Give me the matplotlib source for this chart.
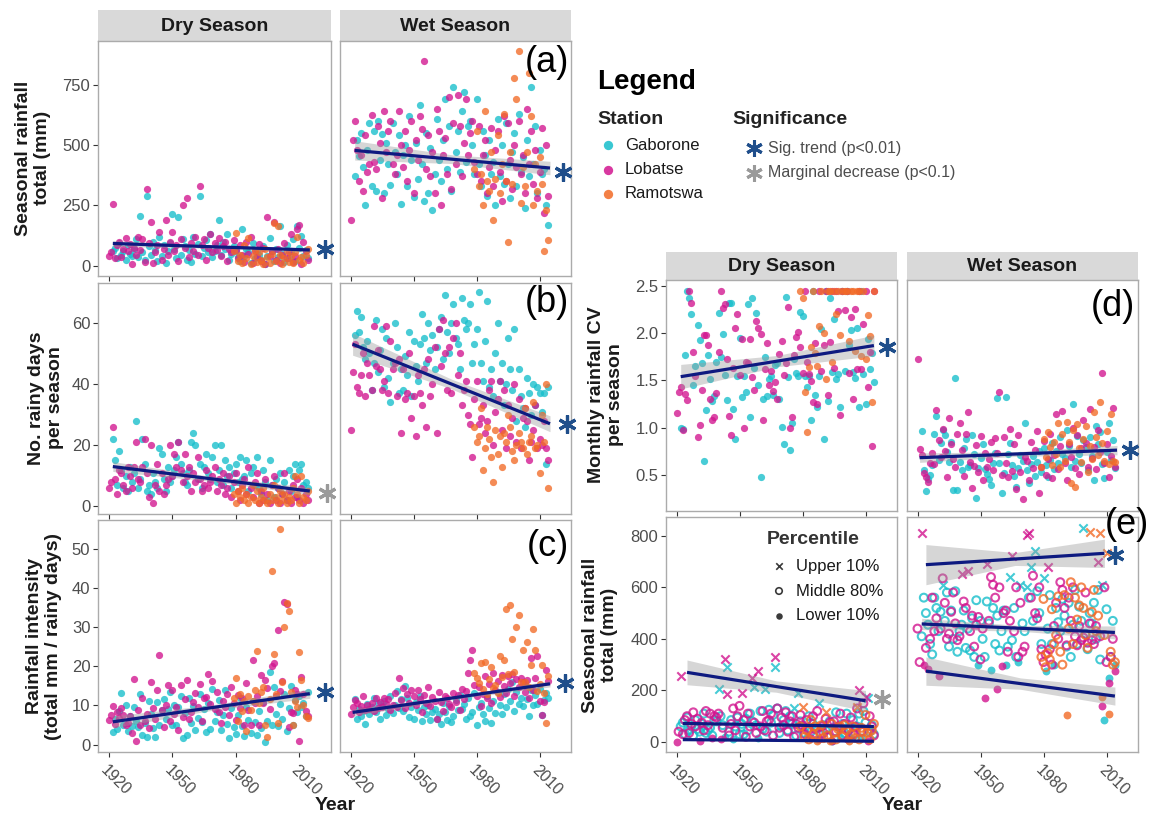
import numpy as np
import matplotlib
matplotlib.use("Agg")
import matplotlib.pyplot as plt

plt.rcParams["font.family"] = ["Liberation Sans", "DejaVu Sans"]

W, H = 1150, 816

stations = ["Gaborone", "Lobatse", "Ramotswa"]
station_colors = ["#16BECB", "#D2158F", "#F26A26"]
navy = "#0E1A80"
sig_colors = {"sig": "#1F4E8B", "marg": "#9A9A9A"}

gab_years = list(range(1922, 2015))
lob_years = list(range(1920, 2015))
ram_years = list(range(1979, 2015))
year_ticks = [1920, 1950, 1980, 2010]

# ---- (a) seasonal rainfall total (mm)
a_dry_gab = [60, 75, 30, 95, 45, 60, 25, 85, 50, 40,
             70, 110, 35, 205, 55, 25, 290, 80, 45, 100,
             65, 20, 120, 40, 85, 10, 60, 95, 215, 70,
             30, 200, 45, 110, 80, 25, 65, 15, 120, 50,
             90, 290, 40, 75, 105, 55, 130, 35, 60, 85,
             190, 45, 100, 70, 130, 25, 50, 80, 60, 35,
             20, 150, 40, 70, 55, 10, 95, 30, 65, 45,
             25, 80, 5, 40, 115, 60, 20, 70, 35, 165,
             50, 15, 85, 30, 60, 110, 20, 165, 75, 125,
             40, 65, 30]
a_dry_lob = [40, 55, 255, 30, 85, 100, 35, 70, 115, 60,
             90, 5, 75, 45, 120, 65, 110, 15, 320, 95,
             180, 10, 55, 85, 140, 25, 70, 190, 45, 100,
             140, 60, 85, 20, 110, 250, 75, 280, 35, 95,
             60, 120, 45, 330, 85, 110, 25, 75, 130, 55,
             95, 65, 115, 40, 80, 100, 20, 70, 55, 105,
             65, 30, 85, 45, 15, 100, 50, 120, 10, 60,
             35, 90, 20, 75, 5, 200, 40, 60, 180, 25,
             70, 10, 45, 95, 30, 55, 130, 15, 40, 150,
             170, 5, 100, 60, 25]
a_dry_ram = [60, 135, 20, 45, 10, 85, 30, 115, 5, 40,
             65, 15, 55, 25, 5, 70, 35, 10, 50, 175,
             20, 165, 45, 5, 30, 60, 15, 40, 10, 55,
             120, 25, 35, 10, 45, 70]

a_wet_gab = [370, 520, 455, 550, 410, 250, 480, 590, 330, 560,
             310, 600, 440, 545, 300, 510, 420, 335, 590, 470,
             380, 540, 255, 460, 500, 330, 620, 440, 285, 510,
             360, 665, 420, 270, 550, 300, 490, 230, 380, 610,
             440, 350, 520, 690, 400, 580, 310, 740, 470, 560,
             390, 640, 720, 430, 580, 600, 500, 380, 690, 420,
             330, 560, 460, 290, 520, 380, 430, 250, 610, 370,
             500, 340, 590, 420, 280, 470, 550, 330, 630, 390,
             450, 240, 520, 370, 740, 420, 580, 300, 480, 380,
             400, 250, 170]
a_wet_lob = [190, 520, 600, 480, 350, 460, 310, 540, 390, 420,
             625, 430, 400, 580, 510, 280, 640, 470, 560, 600,
             420, 380, 460, 640, 500, 410, 560, 350, 480, 600,
             300, 520, 440, 620, 565, 850, 400, 540, 370, 470,
             300, 650, 560, 250, 460, 530, 380, 700, 320, 590,
             420, 710, 580, 370, 510, 690, 460, 550, 600, 430,
             380, 580, 350, 460, 520, 300, 410, 570, 330, 480,
             560, 390, 270, 620, 350, 590, 440, 320, 500, 410,
             600, 380, 460, 300, 650, 420, 560, 340, 480, 280,
             390, 570, 220, 500, 290]
a_wet_ram = [400, 560, 330, 380, 250, 640, 350, 310, 470, 190,
             360, 540, 300, 420, 630, 350, 100, 470, 340, 780,
             690, 890, 260, 410, 330, 470, 800, 620, 250, 420,
             310, 450, 340, 60, 230, 105]

# ---- (b) number of rainy days per season
b_dry_gab = [22, 15, 7, 18, 12, 6, 10, 5, 13, 8,
             11, 28, 6, 9, 22, 14, 5, 7, 4, 11,
             8, 6, 19, 17, 9, 5, 13, 8, 10, 12,
             16, 21, 14, 11, 8, 7, 12, 21, 24, 20,
             9, 14, 6, 13, 17, 11, 9, 16, 20, 8,
             12, 20, 7, 15, 10, 13, 6, 11, 14, 8,
             16, 9, 10, 15, 5, 11, 13, 7, 16, 6,
             4, 12, 8, 2, 15, 7, 3, 9, 6, 11,
             4, 8, 2, 12, 5, 10, 14, 3, 12, 14,
             7, 8, 6]
b_dry_lob = [6, 8, 26, 9, 4, 12, 11, 7, 5, 13,
             10, 6, 13, 21, 9, 8, 13, 22, 11, 3,
             20, 1, 7, 14, 5, 11, 4, 7, 9, 20,
             10, 17, 13, 21, 12, 8, 17, 10, 13, 5,
             11, 8, 16, 9, 5, 7, 12, 6, 8, 10,
             13, 5, 9, 7, 11, 4, 6, 10, 3, 8,
             11, 5, 2, 7, 9, 4, 13, 6, 3, 8,
             11, 1, 5, 2, 9, 4, 1, 7, 10, 2,
             6, 1, 4, 11, 2, 5, 1, 7, 3, 9,
             2, 6, 1, 4, 2]
b_dry_ram = [4, 1, 5, 3, 6, 2, 4, 1, 3, 7,
             2, 5, 1, 3, 6, 2, 1, 4, 2, 7,
             3, 1, 5, 2, 4, 1, 3, 2, 6, 10,
             4, 1, 10, 3, 2, 5]

b_wet_gab = [56, 64, 57, 62, 52, 48, 54, 50, 38, 47,
             61, 44, 51, 58, 39, 55, 42, 34, 47, 60,
             52, 37, 45, 38, 49, 43, 57, 36, 54, 46,
             41, 53, 63, 55, 47, 60, 51, 56, 45, 52,
             58, 62, 48, 69, 57, 50, 60, 66, 55, 53,
             45, 68, 61, 58, 60, 66, 47, 53, 58, 70,
             47, 41, 54, 67, 39, 45, 36, 50, 60, 41,
             47, 33, 40, 55, 45, 38, 58, 28, 45, 36,
             32, 26, 42, 37, 30, 40, 33, 39, 37, 31,
             37, 14, 39]
b_wet_lob = [25, 44, 53, 39, 37, 43, 50, 36, 47, 43,
             38, 59, 46, 51, 45, 38, 41, 59, 37, 54,
             45, 47, 36, 48, 24, 45, 35, 37, 50, 29,
             36, 23, 43, 37, 33, 45, 26, 48, 36, 40,
             52, 24, 58, 46, 61, 50, 38, 52, 37, 55,
             60, 43, 50, 33, 38, 41, 30, 27, 16, 35,
             41, 27, 29, 33, 24, 28, 38, 41, 20, 31,
             35, 41, 25, 38, 19, 33, 23, 29, 40, 21,
             35, 19, 29, 32, 28, 15, 21, 25, 33, 19,
             22, 20, 28, 19, 15]
b_wet_ram = [26, 21, 23, 32, 12, 19, 26, 22, 16, 8,
             25, 17, 23, 13, 24, 21, 30, 26, 18, 15,
             20, 24, 21, 19, 32, 17, 21, 23, 34, 19,
             20, 11, 30, 21, 40, 6]

# ---- (c) rainfall intensity (total mm / rainy days)
c_dry_gab = [3.2, 6.5, 4.0, 8.5, 13.2, 5.0, 10.1, 3.5, 7.2, 4.8,
             9.5, 6.0, 4.5, 13.0, 2.5, 5.5, 1.8, 11.0, 7.8, 4.2,
             1.8, 10.8, 5.0, 8.8, 11.5, 6.5, 9.0, 13.5, 4.9, 10.2,
             5.1, 9.6, 12.5, 1.6, 8.0, 2.4, 11.8, 5.5, 9.8, 3.8,
             6.8, 12.9, 5.7, 9.1, 3.2, 10.5, 4.0, 14.2, 6.1, 8.3,
             11.3, 3.6, 7.6, 13.8, 5.2, 1.6, 9.3, 4.5, 2.8, 7.5,
             12.0, 4.8, 2.1, 9.7, 6.3, 3.0, 11.2, 5.8, 2.4, 8.6,
             4.3, 10.8, 0.6, 6.0, 18.6, 5.1, 14.6, 7.9, 4.8, 10.3,
             6.4, 12.8, 3.5, 9.2, 15.0, 5.0, 11.4, 8.2, 12.5, 9.6,
             10.5, 7.2, 13.5]
c_dry_lob = [6.2, 7.5, 9.8, 5.3, 8.2, 6.8, 9.2, 7.5, 5.0, 5.6,
             7.4, 2.9, 16.8, 1.0, 8.7, 5.0, 11.9, 6.1, 7.9, 4.3,
             16.0, 9.2, 6.6, 13.9, 22.9, 8.9, 4.5, 10.0, 15.1, 6.0,
             13.9, 7.9, 9.5, 3.7, 15.3, 7.0, 11.7, 16.4, 6.5, 8.4,
             10.8, 13.1, 9.7, 15.5, 6.1, 11.8, 12.1, 18.0, 10.3, 16.2,
             9.0, 13.3, 8.3, 5.4, 11.1, 9.6, 13.0, 7.6, 14.8, 10.7,
             6.2, 12.6, 9.3, 12.0, 5.0, 15.8, 8.8, 5.0, 21.5, 10.6,
             12.4, 5.0, 17.8, 10.6, 16.4, 14.4, 9.1, 20.0, 20.7, 12.4,
             29.2, 13.7, 16.2, 36.3, 35.8, 4.4, 8.2, 8.0, 14.0, 13.0,
             0.9, 17.3, 12.8, 8.6, 7.3]
c_dry_ram = [12.0, 17.0, 6.0, 13.0, 8.5, 11.0, 3.5, 12.5, 8.8, 11.0,
             14.0, 23.8, 10.5, 13.5, 14.8, 5.0, 2.0, 11.5, 44.2, 23.0,
             13.0, 5.5, 55.0, 16.0, 30.0, 36.0, 34.0, 13.5, 5.0, 11.0,
             9.5, 23.5, 16.5, 10.0, 7.3, 6.8]

c_wet_gab = [11.5, 6.5, 9.0, 7.2, 8.6, 5.3, 10.4, 7.8, 9.5, 11.8,
             8.2, 10.6, 6.4, 9.9, 11.2, 7.5, 9.1, 12.3, 8.0, 10.2,
             13.6, 9.3, 11.5, 8.6, 14.9, 12.0, 7.1, 9.7, 6.4, 10.8,
             8.9, 12.4, 5.9, 9.6, 7.9, 10.1, 6.3, 8.2, 9.0, 6.5,
             7.7, 5.2, 10.5, 8.3, 6.2, 9.8, 5.7, 7.4, 11.4, 8.9,
             12.6, 9.0, 10.3, 6.6, 11.9, 7.3, 8.4, 13.1, 5.1, 9.5,
             10.7, 7.9, 6.1, 12.5, 9.2, 5.5, 11.0, 8.0, 13.3, 10.1,
             7.8, 12.8, 9.6, 14.3, 11.1, 16.0, 8.6, 13.4, 10.4, 12.0,
             9.8, 15.1, 11.6, 7.2, 13.9, 10.0, 12.7, 10.3, 14.2, 7.6,
             11.3, 13.2, 12.0]
c_wet_lob = [7.8, 9.5, 11.4, 10.6, 8.3, 9.9, 12.5, 8.7, 10.2, 9.1,
             10.7, 8.5, 11.8, 9.4, 10.9, 9.7, 12.0, 10.3, 11.5, 8.8,
             10.1, 13.2, 9.6, 17.0, 11.3, 14.5, 9.3, 12.9, 10.6, 13.8,
             12.4, 10.0, 14.0, 11.7, 8.4, 12.6, 10.5, 14.7, 9.9, 12.2,
             11.1, 6.4, 13.5, 10.8, 8.6, 12.3, 11.9, 10.4, 9.5, 13.1,
             10.9, 12.7, 8.9, 14.1, 11.6, 13.6, 18.3, 21.5, 24.0, 15.2,
             12.3, 14.6, 9.8, 13.0, 17.4, 11.8, 15.4, 10.7, 18.2, 13.9,
             16.2, 12.1, 17.8, 14.9, 13.2, 17.6, 15.7, 17.9, 12.4, 16.8,
             14.6, 17.1, 15.9, 13.3, 16.4, 12.0, 22.0, 14.0, 17.0, 22.5,
             11.0, 7.5, 10.8, 19.0, 16.3]
c_wet_ram = [18.2, 17.0, 15.6, 20.8, 14.1, 21.0, 12.8, 16.6, 19.8, 14.5,
             15.2, 13.2, 22.6, 17.3, 21.5, 34.5, 18.0, 35.6, 27.0, 18.5,
             30.0, 33.1, 16.0, 24.2, 15.9, 26.1, 14.8, 20.2, 29.4, 24.2,
             13.6, 15.4, 20.2, 13.1, 5.5, 17.5]

# ---- (d) monthly rainfall CV per season
d_dry_gab = [1.00, 0.98, 1.77, 2.45, 2.38, 2.21, 1.45, 1.65, 2.09, 1.93,
             1.68, 0.64, 1.19, 1.77, 1.51, 1.28, 1.33, 1.70, 2.22, 1.75,
             1.99, 1.56, 1.29, 2.32, 2.32, 1.20, 0.88, 1.55, 1.95, 1.32,
             1.55, 1.38, 2.31, 1.11, 2.38, 1.63, 2.22, 1.45, 0.47, 1.30,
             1.75, 1.33, 1.51, 1.55, 1.34, 1.66, 1.69, 1.30, 1.01, 0.82,
             2.39, 1.54, 0.76, 1.05, 1.73, 1.58, 1.55, 2.23, 2.18, 1.55,
             1.43, 1.55, 1.08, 2.45, 1.35, 1.22, 1.55, 2.05, 0.88, 2.45,
             1.28, 2.38, 1.59, 2.15, 1.51, 1.57, 1.22, 2.45, 1.60, 2.45,
             1.88, 2.03, 1.59, 1.53, 2.06, 1.22, 2.45, 1.57, 1.25, 1.94,
             1.62, 1.79, 1.48]
d_dry_lob = [1.15, 1.38, 1.43, 0.97, 1.36, 1.29, 2.45, 2.32, 1.80, 1.55,
             0.90, 1.03, 1.40, 1.98, 1.98, 1.88, 1.30, 1.08, 1.11, 1.37,
             1.80, 2.45, 2.27, 2.31, 1.73, 1.12, 0.92, 1.63, 2.06, 2.21,
             1.56, 1.94, 0.99, 1.70, 1.68, 1.94, 1.54, 1.40, 2.13, 2.06,
             1.99, 1.08, 1.62, 1.90, 1.45, 1.60, 1.39, 1.48, 1.30, 1.78,
             1.92, 1.56, 1.69, 2.28, 1.00, 1.11, 1.77, 1.96, 2.01, 1.86,
             1.58, 2.45, 1.70, 1.57, 1.49, 1.27, 1.90, 1.25, 2.45, 1.60,
             1.88, 2.45, 1.34, 1.91, 2.45, 1.63, 2.45, 2.24, 1.13, 2.45,
             2.25, 2.45, 1.58, 2.17, 1.30, 2.26, 1.62, 2.45, 1.62, 2.10,
             2.45, 1.43, 1.80, 0.80, 2.45]
d_dry_ram = [2.45, 2.38, 1.38, 0.95, 1.64, 1.85, 2.45, 1.79, 1.65, 2.08,
             2.45, 2.00, 1.52, 2.45, 2.45, 1.70, 2.45, 2.21, 2.45, 1.98,
             2.45, 2.45, 2.45, 1.92, 2.45, 2.45, 1.81, 2.45, 2.45, 1.76,
             2.45, 1.73, 2.19, 1.97, 1.27, 2.45]

d_wet_gab = [0.96, 0.55, 0.33, 0.45, 0.50, 0.60, 0.93, 1.12, 0.66, 0.84,
             0.97, 0.92, 0.74, 0.63, 0.85, 0.34, 1.53, 0.34, 0.63, 0.55,
             0.78, 0.88, 0.58, 0.60, 0.92, 0.72, 0.25, 0.57, 0.68, 0.83,
             0.56, 0.51, 0.45, 0.39, 0.62, 0.73, 1.31, 0.62, 0.30, 0.52,
             1.32, 0.72, 0.84, 0.60, 0.49, 0.37, 0.57, 0.71, 0.65, 1.05,
             0.55, 0.41, 0.61, 0.70, 0.49, 0.63, 0.75, 0.53, 0.78, 0.60,
             0.47, 0.66, 0.84, 0.56, 0.75, 0.62, 0.90, 0.72, 0.68, 0.97,
             0.80, 0.58, 1.25, 0.65, 0.91, 0.72, 0.62, 0.87, 0.79, 0.55,
             0.90, 0.70, 0.44, 1.02, 0.83, 0.95, 0.61, 0.46, 0.74, 1.05,
             0.66, 0.87, 0.57]
d_wet_lob = [1.73, 0.77, 0.71, 0.52, 0.48, 0.42, 0.62, 0.73, 0.61, 1.19,
             0.87, 0.69, 0.98, 0.75, 0.48, 1.10, 0.82, 0.67, 0.58, 0.93,
             1.05, 0.76, 0.49, 0.93, 1.17, 0.63, 0.36, 0.59, 0.81, 0.53,
             0.91, 0.44, 0.73, 0.58, 0.67, 0.85, 0.55, 0.89, 0.73, 1.38,
             0.50, 0.90, 0.62, 0.47, 0.98, 0.54, 0.82, 0.35, 0.92, 0.53,
             0.24, 0.69, 0.65, 0.44, 0.85, 0.57, 0.76, 0.96, 0.31, 0.58,
             0.86, 0.50, 0.67, 0.93, 0.46, 0.71, 1.14, 0.56, 0.80, 1.18,
             0.62, 0.44, 0.82, 0.69, 1.00, 0.57, 0.92, 0.51, 0.78, 1.08,
             0.84, 0.58, 1.20, 0.68, 0.79, 0.56, 0.97, 0.74, 1.58, 0.62,
             0.83, 0.48, 0.70, 1.21, 0.58]
d_wet_ram = [0.58, 0.88, 0.69, 0.95, 0.79, 0.60, 0.85, 0.72, 1.05, 0.58,
             0.93, 0.64, 1.06, 0.85, 0.41, 0.97, 0.37, 1.04, 0.78, 0.63,
             0.88, 1.02, 0.53, 0.80, 0.67, 1.17, 0.90, 0.71, 1.27, 0.84,
             0.64, 0.96, 0.61, 1.14, 0.65, 0.63]

# ---- (e) seasonal rainfall total by percentile group (mm)
e_dry_gab = [60, 75, 30, 95, 45, 60, 25, 85, 50, 40,
             70, 110, 35, 45, 55, 25, 85, 80, 205, 100,
             65, 20, 290, 40, 85, 10, 60, 95, 30, 70,
             30, 90, 45, 110, 80, 215, 65, 15, 120, 50,
             205, 40, 125, 75, 105, 290, 130, 35, 60, 85,
             120, 45, 100, 70, 130, 25, 190, 80, 60, 35,
             20, 100, 40, 70, 55, 10, 150, 30, 65, 45,
             25, 80, 5, 40, 115, 60, 20, 70, 35, 110,
             50, 15, 85, 30, 60, 110, 20, 120, 75, 170,
             40, 65, 30]
e_dry_lob = [0, 40, 255, 30, 85, 100, 35, 70, 115, 60,
             90, 5, 75, 45, 120, 65, 110, 15, 100, 95,
             110, 10, 55, 320, 185, 25, 70, 130, 45, 100,
             140, 190, 85, 20, 110, 60, 250, 75, 35, 275,
             60, 120, 45, 80, 85, 110, 25, 330, 130, 55,
             95, 65, 115, 40, 80, 100, 20, 70, 55, 105,
             65, 30, 85, 45, 15, 100, 50, 120, 10, 60,
             35, 90, 20, 75, 5, 80, 40, 60, 110, 25,
             70, 10, 45, 95, 30, 60, 130, 200, 40, 150,
             175, 5, 100, 60, 25]
e_dry_ram = [60, 135, 20, 45, 10, 85, 30, 60, 5, 40,
             65, 15, 115, 25, 5, 70, 35, 10, 50, 60,
             20, 65, 45, 5, 30, 60, 15, 135, 10, 55,
             40, 105, 35, 10, 45, 70]

e_wet_gab = [410, 560, 500, 455, 380, 340, 560, 520, 430, 505,
             610, 470, 580, 370, 510, 400, 585, 350, 430, 455,
             510, 365, 440, 355, 480, 330, 550, 300, 470, 400,
             330, 545, 460, 280, 520, 380, 490, 355, 430, 510,
             300, 370, 640, 395, 520, 330, 310, 610, 460, 430,
             600, 560, 680, 470, 740, 585, 500, 380, 635, 275,
             440, 570, 380, 300, 520, 465, 430, 555, 490, 370,
             540, 330, 455, 590, 380, 525, 470, 830, 420, 360,
             500, 460, 540, 400, 590, 320, 610, 85, 515, 250,
             330, 470, 300]
e_wet_lob = [440, 310, 810, 300, 365, 285, 400, 560, 430, 480,
             255, 440, 635, 540, 400, 420, 505, 580, 460, 395,
             410, 650, 545, 520, 665, 430, 490, 370, 455, 485,
             320, 440, 170, 690, 470, 640, 610, 560, 205, 600,
             295, 500, 510, 350, 470, 720, 430, 600, 330, 540,
             350, 370, 805, 810, 560, 645, 500, 480, 600, 360,
             310, 340, 680, 360, 300, 450, 540, 400, 620, 590,
             520, 375, 560, 470, 600, 410, 375, 450, 395, 405,
             580, 385, 460, 395, 380, 450, 700, 410, 140, 600,
             310, 230, 330, 400, 275]
e_wet_ram = [330, 555, 290, 345, 320, 515, 380, 415, 565, 350,
             300, 570, 105, 440, 620, 380, 560, 475, 530, 600,
             520, 415, 365, 815, 505, 590, 430, 490, 810, 175,
             415, 735, 110, 350, 300, 310]

# ---- fitted trends: [start year, end year], [start, end] value, ribbon half-width at start/mid/end
fit_a_dry = ([1922, 2015], [92, 65], [12, 6, 9])
fit_a_wet = ([1922, 2015], [478, 405], [40, 18, 28])
fit_b_dry = ([1922, 2015], [13, 5], [1.6, 0.8, 1.2])
fit_b_wet = ([1921, 2015], [53, 27], [3.6, 1.6, 2.6])
fit_c_dry = ([1922, 2015], [5.8, 13.0], [1.5, 0.7, 1.2])
fit_c_wet = ([1921, 2015], [8.2, 15.5], [0.9, 0.4, 0.8])
fit_d_dry = ([1922, 2014], [1.54, 1.87], [0.13, 0.06, 0.11])
fit_d_wet = ([1921, 2015], [0.68, 0.76], [0.05, 0.025, 0.05])
fit_e_dry = [([1925, 2010], [270, 160], [48, 22, 40]),
             ([1923, 2014], [72, 60], [6, 3, 5]),
             ([1923, 2014], [9, 3], [3, 1.5, 3])]
fit_e_wet = [([1924, 2009], [688, 732], [78, 25, 55]),
             ([1922, 2014], [458, 425], [22, 11, 25]),
             ([1924, 2014], [275, 178], [55, 22, 35])]

# ---- significance stars: year position, value, kind
star_a_dry = (2022, 68, "sig")
star_a_wet = (2021, 390, "sig")
star_b_dry = (2023, 4.3, "marg")
star_b_wet = (2023, 27, "sig")
star_c_dry = (2022, 13.5, "sig")
star_c_wet = (2022, 15.7, "sig")
star_d_dry = (2020, 1.85, "sig")
star_d_wet = (2021, 0.76, "sig")
star_e_dry = (2018, 165, "marg")
star_e_wet = (2014, 726, "sig")

percentile_labels = ["Upper 10%", "Middle 80%", "Lower 10%"]

fig = plt.figure(figsize=(W / 100, H / 100), dpi=100)


def add_ax(x0, y0, x1, y1):
    return fig.add_axes([x0 / W, 1 - y1 / H, (x1 - x0) / W, (y1 - y0) / H])


def style(ax, ylim, yticks, ylabels, show_y, show_x):
    ax.set_xlim(1915, 2025)
    ax.set_ylim(*ylim)
    ax.set_xticks(year_ticks)
    ax.set_yticks(yticks)
    for s in ax.spines.values():
        s.set_color("#ABABAB")
        s.set_linewidth(1.0)
    ax.tick_params(length=3.5, width=0.8, color="#333333", labelsize=12,
                   labelcolor="#4D4D4D", pad=2)
    ax.tick_params(axis="x", pad=4)
    if show_y:
        ax.set_yticklabels(ylabels)
    else:
        ax.set_yticklabels([])
        ax.tick_params(axis="y", length=0)
    if show_x:
        ax.set_xticklabels([str(t) for t in year_ticks], rotation=-45, ha="left",
                           va="top", rotation_mode="anchor", fontsize=11.5)
    else:
        ax.set_xticklabels([])


def trend(ax, fit):
    xs, ys, se = fit
    x3 = np.array([xs[0], (xs[0] + xs[1]) / 2, xs[1]])
    y3 = np.interp(x3, xs, ys)
    ax.fill_between(x3, y3 - np.array(se), y3 + np.array(se), color="#999999",
                    alpha=0.4, lw=0, zorder=3)
    ax.plot(xs, ys, color=navy, lw=2.3, zorder=4, solid_capstyle="butt")


def star(ax, st, size=13):
    x, y, kind = st
    ax.plot([x], [y], marker=(6, 2, 0), ms=size, mew=2.3, color=sig_colors[kind],
            clip_on=False, zorder=6, ls="none")


def points(ax, series):
    for (yrs, vals), col in zip(series, station_colors):
        ax.scatter(yrs, vals, s=27, color=col, alpha=0.78, linewidths=0, zorder=2)


def pct_groups(vals):
    v = np.asarray(vals, float)
    order = np.argsort(v, kind="stable")
    k = len(v) // 10
    grp = np.ones(len(v), int)
    grp[order[:k]] = 0
    grp[order[-k:]] = 2
    return grp


def pct_points(ax, series):
    for (yrs, vals), col in zip(series, station_colors):
        yrs = np.asarray(yrs)
        v = np.asarray(vals, float)
        g = pct_groups(vals)
        ax.scatter(yrs[g == 1], v[g == 1], s=32, facecolors="none", edgecolors=col,
                   linewidths=1.5, alpha=0.8, zorder=2)
        ax.scatter(yrs[g == 0], v[g == 0], s=32, color=col, linewidths=0, alpha=0.8, zorder=2)
        ax.scatter(yrs[g == 2], v[g == 2], s=36, marker="x", color=col, linewidths=1.5,
                   alpha=0.8, zorder=2)


def strip(x0, x1, y0, y1, text):
    sax = add_ax(x0, y0, x1, y1)
    sax.set_xticks([])
    sax.set_yticks([])
    sax.set_facecolor("#D9D9D9")
    for s in sax.spines.values():
        s.set_visible(False)
    sax.text(0.5, 0.47, text, ha="center", va="center", fontsize=14,
             fontweight="bold", color="#1A1A1A", transform=sax.transAxes)


# ---- left block: (a), (b), (c)
left_cols = [(98, 331), (340, 571)]
left_rows = [(41, 276), (283, 514), (520, 752)]
left_specs = [
    ((-43, 932), [0, 250, 500, 750], ["0", "250", "500", "750"],
     [[(gab_years, a_dry_gab), (lob_years, a_dry_lob), (ram_years, a_dry_ram)],
      [(gab_years, a_wet_gab), (lob_years, a_wet_lob), (ram_years, a_wet_ram)]],
     [fit_a_dry, fit_a_wet], [star_a_dry, star_a_wet]),
    ((-2.5, 73), [0, 20, 40, 60], ["0", "20", "40", "60"],
     [[(gab_years, b_dry_gab), (lob_years, b_dry_lob), (ram_years, b_dry_ram)],
      [(gab_years, b_wet_gab), (lob_years, b_wet_lob), (ram_years, b_wet_ram)]],
     [fit_b_dry, fit_b_wet], [star_b_dry, star_b_wet]),
    ((-1.9, 57.3), [0, 10, 20, 30, 40, 50], ["0", "10", "20", "30", "40", "50"],
     [[(gab_years, c_dry_gab), (lob_years, c_dry_lob), (ram_years, c_dry_ram)],
      [(gab_years, c_wet_gab), (lob_years, c_wet_lob), (ram_years, c_wet_ram)]],
     [fit_c_dry, fit_c_wet], [star_c_dry, star_c_wet]),
]

strip(98, 331, 10, 41, "Dry Season")
strip(340, 571, 10, 41, "Wet Season")
for r, (ylim, yt, yl, series, fits, stars) in enumerate(left_specs):
    y0, y1 = left_rows[r]
    for c in range(2):
        x0, x1 = left_cols[c]
        ax = add_ax(x0, y0, x1, y1)
        points(ax, series[c])
        trend(ax, fits[c])
        star(ax, stars[c])
        style(ax, ylim, yt, yl, c == 0, r == 2)

# ---- right block: (d), (e)
right_cols = [(666, 897), (907, 1138)]
strip(666, 897, 252, 280, "Dry Season")
strip(907, 1138, 252, 280, "Wet Season")

d_series = [[(gab_years, d_dry_gab), (lob_years, d_dry_lob), (ram_years, d_dry_ram)],
            [(gab_years, d_wet_gab), (lob_years, d_wet_lob), (ram_years, d_wet_ram)]]
e_series = [[(gab_years, e_dry_gab), (lob_years, e_dry_lob), (ram_years, e_dry_ram)],
            [(gab_years, e_wet_gab), (lob_years, e_wet_lob), (ram_years, e_wet_ram)]]
d_fits = [fit_d_dry, fit_d_wet]
e_fits = [fit_e_dry, fit_e_wet]
d_stars = [star_d_dry, star_d_wet]
e_stars = [star_e_dry, star_e_wet]

for c in range(2):
    x0, x1 = right_cols[c]
    ax = add_ax(x0, 280, x1, 511)
    points(ax, d_series[c])
    trend(ax, d_fits[c])
    star(ax, d_stars[c])
    style(ax, (0.114, 2.566), [0.5, 1.0, 1.5, 2.0, 2.5],
          ["0.5", "1.0", "1.5", "2.0", "2.5"], c == 0, False)

    ax = add_ax(x0, 517, x1, 752)
    pct_points(ax, e_series[c])
    for f in e_fits[c]:
        trend(ax, f)
    star(ax, e_stars[c])
    style(ax, (-39, 873), [0, 200, 400, 600, 800],
          ["0", "200", "400", "600", "800"], c == 0, True)

# ---- overlay for titles, labels and legends (pixel coordinates)
ov = fig.add_axes([0, 0, 1, 1], zorder=20)
ov.set_xlim(0, W)
ov.set_ylim(H, 0)
ov.axis("off")

ylab_kw = dict(rotation=90, ha="center", va="center", fontsize=14, fontweight="bold",
               color="#1A1A1A", linespacing=1.1)
ov.text(33, 158, "Seasonal rainfall\ntotal (mm)", **ylab_kw)
ov.text(46, 398, "No. rainy days\nper season", **ylab_kw)
ov.text(44, 636, "Rainfall intensity\n(total mm / rainy days)", **ylab_kw)
ov.text(606, 395, "Monthly rainfall CV\nper season", **ylab_kw)
ov.text(600, 635, "Seasonal rainfall\ntotal (mm)", **ylab_kw)

ov.text(335, 806, "Year", ha="center", va="center", fontsize=14, fontweight="bold", color="#1A1A1A")
ov.text(902, 806, "Year", ha="center", va="center", fontsize=14, fontweight="bold", color="#1A1A1A")

lab_kw = dict(ha="right", va="center", fontsize=26, color="black")
ov.text(569, 62, "(a)", **lab_kw)
ov.text(569, 302, "(b)", **lab_kw)
ov.text(569, 546, "(c)", **lab_kw)
ov.text(1135, 306, "(d)", **lab_kw)
ov.text(1149, 525, "(e)", **lab_kw)

# main legend
ov.text(597, 82, "Legend", ha="left", va="center", fontsize=20, fontweight="bold", color="black")
ov.text(597, 119, "Station", ha="left", va="center", fontsize=14, fontweight="bold", color="#222222")
for i, (name, col) in enumerate(zip(stations, station_colors)):
    yy = 145 + i * 24.5
    ov.scatter([608], [yy], s=45, color=col, alpha=0.85, linewidths=0)
    ov.text(625, yy, name, ha="left", va="center", fontsize=12, color="#1A1A1A")
ov.text(732, 119, "Significance", ha="left", va="center", fontsize=14, fontweight="bold", color="#222222")
ov.plot([754], [148], marker=(6, 2, 0), ms=12, mew=2.2, color=sig_colors["sig"], ls="none")
ov.text(768, 148, "Sig. trend (p<0.01)", ha="left", va="center", fontsize=11.5, color="#4D4D4D")
ov.plot([754], [173], marker=(6, 2, 0), ms=12, mew=2.2, color=sig_colors["marg"], ls="none")
ov.text(768, 173, "Marginal decrease (p<0.1)", ha="left", va="center", fontsize=11.5, color="#4D4D4D")

# percentile legend inside (e) dry panel
ov.text(767, 540, "Percentile", ha="left", va="center", fontsize=14, fontweight="bold", color="#333333")
pct_y = [566, 591, 616]
ov.scatter([779], [pct_y[0]], marker="x", s=22, color="#3A3A3A", linewidths=1.2)
ov.scatter([779], [pct_y[1]], s=22, facecolors="none", edgecolors="#3A3A3A", linewidths=1.2)
ov.scatter([779], [pct_y[2]], s=22, color="#3A3A3A", linewidths=0)
for yy, lab in zip(pct_y, percentile_labels):
    ov.text(796, yy, lab, ha="left", va="center", fontsize=12, color="#1A1A1A")

fig.savefig("out.png", dpi=100)
